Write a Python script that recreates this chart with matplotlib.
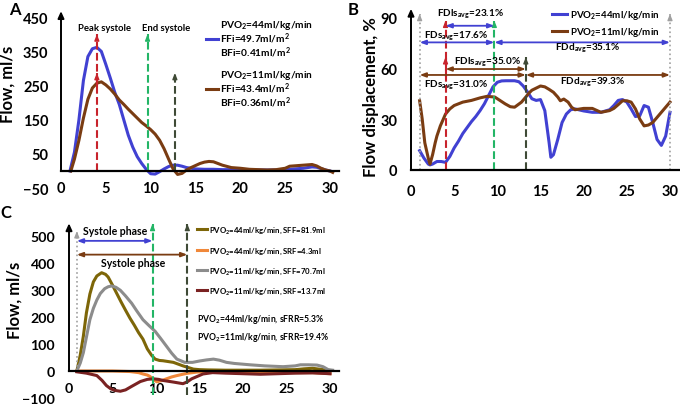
import matplotlib
matplotlib.use("Agg")
import matplotlib.pyplot as plt

plt.rcParams['font.family'] = ['Lato', 'DejaVu Sans']
plt.rcParams['font.weight'] = 'bold'
plt.rcParams['mathtext.fontset'] = 'custom'
plt.rcParams['mathtext.rm'] = 'Lato:bold'
plt.rcParams['mathtext.bf'] = 'Lato:bold'
plt.rcParams['mathtext.it'] = 'Lato:bold'
plt.rcParams['mathtext.default'] = 'bf'

# ---------------- data ----------------
ticks_x = [0, 5, 10, 15, 20, 25, 30]

# Panel A: flow, ml/s
a_blue_x = [1, 1.5, 2, 2.5, 3, 3.5, 4, 4.5, 5, 5.5, 6, 6.5, 7, 7.5, 8, 8.5, 9, 9.5, 10, 10.5,
            11, 11.5, 12, 12.5, 13, 13.5, 14, 15, 16, 17, 18, 19, 20, 21, 22, 23, 24, 25, 26,
            27, 28, 28.5, 29, 29.5, 30]
a_blue_y = [0, 55, 150, 265, 335, 358, 362, 350, 312, 272, 230, 195, 150, 105, 70, 42, 22, 5, -8, -9,
            -2, 6, 13, 17, 17, 14, 10, 6, 5, 5, 4, 4, 3, 3, 3, 3, 3, 4, 6,
            8, 12, 11, 7, 3, 0]
a_brown_x = [1.1, 1.5, 2, 2.5, 3, 3.5, 4, 4.5, 5, 5.5, 6, 6.5, 7, 7.5, 8, 8.5, 9, 9.5, 10, 10.5,
             11, 11.5, 12, 12.5, 13, 13.5, 14, 14.5, 15, 15.5, 16, 16.5, 17, 17.5, 18, 19, 20,
             21, 22, 23, 24, 25, 25.5, 26, 27, 28, 28.5, 29, 29.5, 30, 30.3]
a_brown_y = [0, 35, 90, 155, 210, 243, 257, 261, 252, 240, 225, 208, 195, 181, 168, 155, 142, 132, 121, 108,
             90, 65, 35, 6, -10, -7, 3, 10, 16, 22, 26, 28, 27, 22, 17, 10, 8,
             5, 4, 3, 4, 8, 14, 15, 17, 19, 15, 8, 3, 0, -4]
a_yticks = [-50, 50, 150, 250, 350, 450]
a_labels = ["PVO$_2$=44ml/kg/min\nFFi=49.7ml/m$^2$\nBFi=0.41ml/m$^2$",
            "PVO$_2$=11ml/kg/min\nFFi=43.4ml/m$^2$\nBFi=0.36ml/m$^2$"]
a_peak_x, a_end44_x, a_end11_x = 4.0, 9.65, 12.7

# Panel B: flow displacement, %
b_blue_x = [1, 1.5, 2, 2.2, 2.5, 3, 3.5, 4, 4.5, 5, 5.5, 6, 6.5, 7, 7.5, 8, 8.5, 9, 9.5, 10,
            10.5, 11, 11.5, 12, 12.5, 13, 13.5, 14, 14.5, 15, 15.5, 16, 16.2, 16.5, 17, 17.5, 18,
            18.5, 19, 20, 21, 22, 23, 23.5, 24, 24.5, 25, 25.5, 26, 26.5, 27, 27.5, 28, 28.5,
            29, 29.5, 30]
b_blue_y = [11.4, 7, 3.5, 3, 3.5, 5, 5, 4.5, 8, 13, 17, 21.5, 25, 28.5, 31.5, 35, 39, 44, 49, 51.7,
            52.5, 52.6, 52.6, 52.6, 52, 49.5, 46, 42, 41, 41.5, 35, 16, 7.5, 9, 18, 28, 33,
            35.5, 36, 34.8, 34, 34, 35.5, 38, 41, 41.5, 40, 36, 31.5, 32, 38, 37, 28, 18,
            14.5, 20, 34]
b_brown_x = [1, 1.3, 1.6, 2, 2.2, 2.5, 2.8, 3.0, 3.4, 4, 4.5, 5, 6, 7, 8, 8.8, 9.7, 10.3, 10.9,
             11.5, 12, 12.8, 13.3, 13.6, 14, 14.4, 15, 15.5, 16, 16.5, 17, 17.3, 17.7, 18.2, 18.6,
             19, 20, 21, 22, 23, 23.5, 24, 24.5, 25, 25.5, 26, 26.5, 27, 27.5, 28, 28.5, 29, 29.5, 30]
b_brown_y = [40.8, 30, 16, 7, 3.5, 9, 16, 20, 26, 33, 36, 38, 40, 41, 42.5, 43.4, 43, 41, 39,
             37.3, 37, 40, 43, 45, 47, 48, 49.5, 49, 47.5, 45.8, 43, 40.8, 41.8, 40, 37,
             35.5, 36.3, 36.3, 34, 35, 36.3, 38.5, 40.8, 40.8, 40, 36, 30, 26, 26.5, 28, 31, 34, 37, 40]
b_yticks = [0, 30, 60, 90]
b_labels = ["PVO$_2$=44ml/kg/min", "PVO$_2$=11ml/kg/min"]
b_start_x, b_end_x = 1.0, 30.0
b_peak_x, b_end44_x, b_end11_x = 4.0, 9.65, 13.3

# Panel C: forward / reverse flow, ml/s
c_sff44_x = [0.9, 1.3, 1.65, 2, 2.4, 2.8, 3.2, 3.75, 4.2, 4.5, 5, 5.3, 6, 6.5, 7, 7.5, 8, 8.5, 9,
             9.5, 9.9, 10.4, 10.8, 12, 13.1, 14.3, 15, 16, 18, 20, 22, 24, 26, 27, 28, 29, 30]
c_sff44_y = [0, 60, 129, 215, 285, 330, 352, 364, 358, 348, 318, 299, 255, 225, 196, 170, 142, 118, 82,
             58, 44, 39, 38, 32, 19, 7, 5, 4, 3, 3, 3, 4, 5, 8, 10, 6, 2]
c_srf44_x = [0.9, 3, 5, 7, 8, 8.5, 9, 9.3, 9.7, 10.1, 10.6, 11.2, 11.8, 12.4, 13.5, 14.7, 16, 18,
             20, 22, 24, 26, 28, 29, 30]
c_srf44_y = [0, 0, 0, -2, -6, -11, -15, -20, -32, -40, -36, -29, -22, -17, -9, -4, -3, -4,
             -5, -5, -5, -6, -6, -8, -10]
c_sff11_x = [0.9, 1.3, 1.65, 2, 2.4, 2.8, 3.2, 3.6, 4.1, 4.5, 4.9, 5.4, 5.9, 6.5, 7.2, 7.8, 8.5,
             9.2, 9.9, 10.5, 11.2, 11.8, 12.4, 13.3, 14.2, 15, 15.8, 16.6, 17.3, 18.1, 19, 20.8,
             22.5, 24.6, 26, 26.6, 27.5, 28.5, 29.2, 29.8, 30.3]
c_sff11_y = [0, 30, 68, 125, 190, 232, 263, 287, 305, 312, 315, 310, 299, 278, 251, 222, 190,
             168, 147, 122, 92, 66, 44, 32, 32, 37, 41, 44, 40, 32, 28, 23,
             19, 16, 19, 23, 23, 22, 16, 5, 3]
c_srf11_x = [0.9, 2, 3.2, 3.8, 4.3, 4.8, 5.3, 5.9, 6.5, 7.2, 8.2, 9, 9.7, 10.3, 10.8, 12, 13.1,
             13.6, 14.1, 15.4, 16.5, 18, 20, 22, 24, 26, 28, 30]
c_srf11_y = [-3, -8, -17, -35, -54, -66, -72, -75, -70, -57, -39, -31, -29, -31, -35, -41, -47,
             -40, -29, -11, -6, -8, -10, -12, -10, -8, -7, -10]
c_yticks = [-100, 0, 100, 200, 300, 400, 500]
c_labels = ["PVO$_2$=44ml/kg/min, SFF=81.9ml", "PVO$_2$=44ml/kg/min, SRF=4.3ml",
            "PVO$_2$=11ml/kg/min, SFF=70.7ml", "PVO$_2$=11ml/kg/min, SRF=13.7ml"]
c_start_x, c_end44_x, c_end11_x = 0.9, 9.6, 13.6

# ---------------- colours ----------------
BLUE = '#4141d2'
BROWN = '#7a3c12'
RED = '#c8232c'
GREEN = '#23b566'
DARK = '#3f4a36'
GRAY = '#a0a0a0'
OLIVE = '#7d6608'
CGRAY = '#8c8c8c'
ORANGE = '#f0883a'
DRED = '#7a2222'
LW = 2.2

W, H = 680, 406
fig = plt.figure(figsize=(W / 100, H / 100), dpi=100)


def make_axes(x0, xpu, y0, ypu, xlim, ylim):
    left = x0 + xlim[0] * xpu
    right = x0 + xlim[1] * xpu
    top = y0 - ylim[1] * ypu
    bottom = y0 - ylim[0] * ypu
    ax = fig.add_axes([left / W, 1 - bottom / H, (right - left) / W, (bottom - top) / H])
    ax.set_xlim(*xlim)
    ax.set_ylim(*ylim)
    for s in ['top', 'right', 'left']:
        ax.spines[s].set_visible(False)
    ax.spines['bottom'].set_position(('data', 0))
    ax.spines['bottom'].set_linewidth(1.6)
    ax.patch.set_alpha(0)
    return ax


def style_ticks(ax, yticks, xpad, ypad, ytop, size=10.5):
    ax.set_xticks(ticks_x)
    ax.set_yticks(yticks)
    ax.tick_params(axis='x', length=0, pad=xpad, labelsize=size)
    ax.tick_params(axis='y', length=0, pad=ypad, labelsize=size)
    for lab in ax.get_xticklabels() + ax.get_yticklabels():
        lab.set_fontweight('bold')
    ax.annotate('', xy=(0, ytop), xytext=(0, 0),
                arrowprops=dict(arrowstyle='-|>,head_length=0.4,head_width=0.18', color='black',
                                lw=1.4, shrinkA=0, shrinkB=0), annotation_clip=False)


def vdash(ax, x, y0, y1, color, ls='--', lw=1.5):
    ax.plot([x, x], [y0, y1 - 1e-9], ls=ls, color=color, lw=lw, clip_on=False)
    span = ax.get_ylim()[1] - ax.get_ylim()[0]
    ax.annotate('', xy=(x, y1), xytext=(x, y1 - span * 0.03),
                arrowprops=dict(arrowstyle='-|>,head_length=0.35,head_width=0.14', color=color,
                                lw=1.0, shrinkA=0, shrinkB=0), annotation_clip=False)


def harrow(ax, x0, x1, y, color):
    ax.annotate('', xy=(x1, y), xytext=(x0, y),
                arrowprops=dict(arrowstyle='<|-|>,head_length=0.35,head_width=0.13', color=color,
                                lw=1.3, shrinkA=0, shrinkB=0), annotation_clip=False)


# ================= Panel A =================
axA = make_axes(61, 8.967, 172, 0.3416, (0, 31), (-50, 470))
style_ticks(axA, a_yticks, 7.5, 9, 468)
lA1, = axA.plot(a_blue_x, a_blue_y, color=BLUE, lw=LW, label=a_labels[0])
lA2, = axA.plot(a_brown_x, a_brown_y, color=BROWN, lw=LW, label=a_labels[1])
vdash(axA, a_peak_x, 0, 400, RED)
vdash(axA, a_peak_x, 250, 287, RED)
vdash(axA, a_end44_x, 0, 400, GREEN)
vdash(axA, a_end11_x, 0, 287, DARK)
axA.text(4.9, 421, 'Peak systole', ha='center', va='center', fontsize=6.8, fontweight='bold')
axA.text(11.7, 421, 'End systole', ha='center', va='center', fontsize=6.8, fontweight='bold')
legA = axA.legend(handles=[lA1, lA2], loc='upper left', bbox_to_anchor=(206 / W, 1 - 19 / H),
                  bbox_transform=fig.transFigure, frameon=False, fontsize=7.3,
                  handlelength=1.15, handletextpad=0.25, labelspacing=0.9, borderpad=0,
                  borderaxespad=0)
for t in legA.get_texts():
    t.set_fontweight('bold')
    t.set_linespacing(0.95)
axA.set_ylabel('Flow, ml/s', fontsize=12, fontweight='bold')
axA.yaxis.set_label_coords(16 / W, 1 - 84 / H, transform=fig.transFigure)

# ================= Panel B =================
axB = make_axes(411, 8.633, 171, 1.697, (0, 31), (0, 95))
style_ticks(axB, b_yticks, 10, 10, 95)
lB1, = axB.plot(b_blue_x, b_blue_y, color=BLUE, lw=LW, label=b_labels[0])
lB2, = axB.plot(b_brown_x, b_brown_y, color=BROWN, lw=LW, label=b_labels[1])
vdash(axB, b_start_x, 0, 92, GRAY, ls=':', lw=1.2)
vdash(axB, b_end_x, 0, 92, GRAY, ls=':', lw=1.2)
vdash(axB, b_peak_x, 0, 88, RED)
vdash(axB, b_peak_x, 55, 66.5, RED)
vdash(axB, b_end44_x, 0, 88, GREEN)
vdash(axB, b_end11_x, 0, 66.5, DARK)
harrow(axB, b_peak_x, b_end44_x, 85, BLUE)
harrow(axB, b_start_x, b_end44_x, 75.2, BLUE)
harrow(axB, b_end44_x, b_end_x, 75.2, BLUE)
harrow(axB, b_peak_x, b_end11_x, 59.5, BROWN)
harrow(axB, b_start_x, b_end11_x, 56, BROWN)
harrow(axB, b_end11_x, b_end_x, 56, BROWN)
fsB = 7.2
axB.text(6.85, 92.5, 'FDls$_{avg}$=23.1%', ha='center', va='center', fontsize=fsB)
axB.text(1.5, 79.5, 'FDs$_{avg}$=17.6%', ha='left', va='center', fontsize=fsB)
axB.text(20.5, 72.0, 'FDd$_{avg}$=35.1%', ha='center', va='center', fontsize=fsB)
axB.text(8.9, 63.8, 'FDls$_{avg}$=35.0%', ha='center', va='center', fontsize=fsB)
axB.text(1.5, 50.5, 'FDs$_{avg}$=31.0%', ha='left', va='center', fontsize=fsB)
axB.text(17.3, 52.0, 'FDd$_{avg}$=39.3%', ha='left', va='center', fontsize=fsB)
legB = axB.legend(handles=[lB1, lB2], loc='upper left', bbox_to_anchor=(552 / W, 1 - 9 / H),
                  bbox_transform=fig.transFigure, frameon=False, fontsize=7,
                  handlelength=1.5, handletextpad=0.3, labelspacing=0.45, borderpad=0,
                  borderaxespad=0)
for t in legB.get_texts():
    t.set_fontweight('bold')
axB.set_ylabel('Flow displacement, %', fontsize=12, fontweight='bold')
axB.yaxis.set_label_coords(379 / W, 1 - 97 / H, transform=fig.transFigure)

# ================= Panel C =================
axC = make_axes(69, 8.7, 372, 0.27, (0, 31), (-100, 560))
style_ticks(axC, c_yticks, 8, 10, 547, size=10.2)
lC1, = axC.plot(c_sff44_x, c_sff44_y, color=OLIVE, lw=LW, label=c_labels[0])
lC2, = axC.plot(c_srf44_x, c_srf44_y, color=ORANGE, lw=LW, label=c_labels[1])
lC3, = axC.plot(c_sff11_x, c_sff11_y, color=CGRAY, lw=LW, label=c_labels[2])
lC4, = axC.plot(c_srf11_x, c_srf11_y, color=DRED, lw=LW, label=c_labels[3])
vdash(axC, c_start_x, 0, 518, GRAY, ls=':', lw=1.2)
vdash(axC, c_end44_x, -90, 545, GREEN)
vdash(axC, c_end11_x, -90, 545, DARK)
harrow(axC, c_start_x, c_end44_x, 482, BLUE)
harrow(axC, c_start_x, c_end11_x, 431, BROWN)
axC.text(5.3, 520, 'Systole phase', ha='center', va='center', fontsize=7.6)
axC.text(7.4, 400, 'Systole phase', ha='center', va='center', fontsize=7.6)
axC.text(14.7, 196, 'PVO$_2$=44ml/kg/min, sFRR=5.3%', ha='left', va='center', fontsize=6.2)
axC.text(14.7, 129, 'PVO$_2$=11ml/kg/min, sFRR=19.4%', ha='left', va='center', fontsize=6.2)
legC = axC.legend(handles=[lC1, lC2, lC3, lC4], loc='upper left',
                  bbox_to_anchor=(197 / W, 1 - 226 / H), bbox_transform=fig.transFigure,
                  frameon=False, fontsize=5.6, handlelength=1.3, handletextpad=0.3,
                  labelspacing=1.25, borderpad=0, borderaxespad=0)
for t in legC.get_texts():
    t.set_fontweight('bold')
axC.set_ylabel('Flow, ml/s', fontsize=12, fontweight='bold')
axC.yaxis.set_label_coords(23 / W, 1 - 300 / H, transform=fig.transFigure)

# panel letters
fig.text(15 / W, 1 - 10 / H, 'A', ha='center', va='center', fontsize=12, fontweight='bold')
fig.text(353 / W, 1 - 10 / H, 'B', ha='center', va='center', fontsize=12, fontweight='bold')
fig.text(6 / W, 1 - 213 / H, 'C', ha='center', va='center', fontsize=12, fontweight='bold')

fig.savefig('out.png', dpi=100)
